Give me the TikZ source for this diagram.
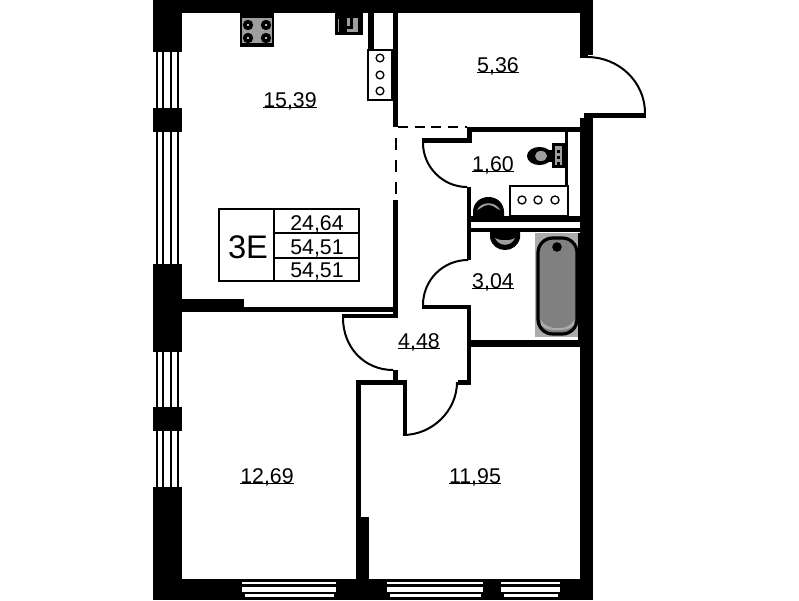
\documentclass[tikz,border=0pt]{standalone}
\usepackage{fontspec}
\setmainfont{Liberation Sans}
\newcommand{\ulnum}[1]{\leavevmode\setbox0\hbox{#1}\rlap{\rule[-1.1pt]{\wd0}{0.9pt}}\box0}
\tikzset{
  wall/.style={fill=black,draw=none},
  gap/.style={fill=white,draw=none},
  swing/.style={draw=black,line width=1.5pt},
  thin wall/.style={draw=black,line width=1pt},
  area/.style={anchor=base,inner sep=0pt,font=\fontsize{16}{16}\selectfont},
  cell/.style={anchor=base,inner sep=0pt,font=\fontsize{16}{16}\selectfont},
  ring/.style={draw=black,fill=white,line width=1pt},
  burner/.style={fill=black,draw=none},
}
\definecolor{tubrim}{gray}{0.67}
\definecolor{tubin}{gray}{0.50}
\definecolor{hobgrey}{gray}{0.62}
\begin{document}
\begin{tikzpicture}[x=0.75pt,y=-0.75pt]
\useasboundingbox (0,0) rectangle (799,600);
\fill[white] (0,0) rectangle (799,600);
% outer walls
\fill[wall] (153,0) rectangle (593,13);
\fill[wall] (153,0) rectangle (182,52);
\fill[wall] (153,108) rectangle (182,132);
\fill[wall] (153,264) rectangle (182,352);
\fill[wall] (153,407) rectangle (182,431);
\fill[wall] (153,487) rectangle (182,600);
\fill[wall] (153,579) rectangle (593,600);
\fill[wall] (580,0) rectangle (593,55);
\fill[wall] (580,53) rectangle (588,58);
\fill[wall] (584,113) rectangle (646,118);
\fill[wall] (584,113) rectangle (593,122);
\fill[wall] (580,118) rectangle (593,600);
% left windows
\foreach \ya/\yb in {52/108,132/264,352/407,431/487}{
  \foreach \xa/\xb in {155.5/157.5,161.5/163.5,170/172,176.5/178.5}{
    \fill[wall] (\xa,\ya) rectangle (\xb,\yb);
  }
}
% bottom windows
\foreach \xa/\xb in {242/336,387/483,501/560}{
  \fill[gap] (\xa,581.7) rectangle (\xb,584.3);
  \fill[gap] (\xa,586.7) rectangle (\xb,591.7);
  \fill[gap] (\xa+2.5,594) rectangle (\xb-2.5,596.7);
}
% interior walls
\fill[wall] (393,13) rectangle (398,127);
\fill[wall] (368,13) rectangle (374,50);
\fill[wall] (393,200) rectangle (398,318);
\fill[wall] (182,307) rectangle (398,312);
\fill[wall] (182,299) rectangle (244,312);
\fill[wall] (342,314) rectangle (398,318);
\fill[wall] (393,370) rectangle (398,381);
\fill[wall] (357,380) rectangle (407,385);
\fill[wall] (356,380) rectangle (361,579);
\fill[wall] (356,517) rectangle (369,579);
\fill[wall] (403,380) rectangle (407,435);
\fill[wall] (458,380) rectangle (471,385);
\fill[wall] (467,307) rectangle (471,385);
\fill[wall] (422,305) rectangle (471,309);
\fill[wall] (467,187) rectangle (471,260);
\fill[wall] (467,340) rectangle (580,347);
\fill[wall] (467,216) rectangle (580,222);
\fill[wall] (467,228) rectangle (580,232);
\fill[wall] (467,127) rectangle (580,132);
\fill[wall] (467,127) rectangle (472,143);
\fill[wall] (422,138) rectangle (472,143);
\fill[wall] (565,132) rectangle (568,186);
% dashed partitions
\draw[line width=1.5pt,dash pattern=on 7.5pt off 5pt] (398,127) -- (467,127);
\draw[line width=1.5pt,dash pattern=on 9pt off 7.5pt] (395.5,138) -- (395.5,197);
% door swings
\draw[swing] (587,57) .. controls (619,57) and (645,82) .. (645,113);
\draw[swing] (423,143) .. controls (423,167) and (443,187) .. (467,187);
\draw[swing] (468,260) .. controls (443,260) and (423,280) .. (423,305);
\draw[swing] (343,318) .. controls (343,347) and (364,370) .. (393,370);
\draw[swing] (403,435) .. controls (432,435) and (457,411) .. (457,382);
% hob
\fill[wall] (240,13) rectangle (274,47);
\fill[hobgrey] (242,18) rectangle (272,43);
\foreach \bx/\by in {248/25,266/25,248/38,266/38}{
  \fill[burner] (\bx,\by) circle[radius=3.9pt];
  \fill[white] (\bx,\by) circle[radius=0.9pt];
}
% kitchen sink
\fill[wall] (335,13) rectangle (363,35);
\fill[hobgrey] (347,18) rectangle (358,32);
\fill[wall] (350,18) rectangle (353,27);
\fill[wall] (346,26) rectangle (353,29);
\fill[hobgrey] (338,19) rectangle (339,32);
% kitchen counter stove
\draw[thin wall,fill=white] (368,50) rectangle (392,100);
\foreach \ry in {58,75,91}{ \draw[ring] (380,\ry) circle[radius=2.9pt]; }
% bathroom counter
\draw[thin wall,fill=white] (510,186) rectangle (568,216);
\foreach \rx in {522,538,555}{ \draw[ring] (\rx,200) circle[radius=3pt]; }
% toilet
\fill[wall] (552,143) rectangle (565,168);
\fill[hobgrey] (555,146) rectangle (562,165);
\foreach \ty in {150,156,162}{ \fill[wall] (556.8,\ty) rectangle (560.2,\ty+3); }
\fill[wall] (539.5,156) ellipse[x radius=9.4pt,y radius=6.8pt];
\fill[wall] (546,150) rectangle (553,162);
\fill[hobgrey] (541,156) ellipse[x radius=4.5pt,y radius=3.8pt];
% washbasin 1,60
\fill[wall] (473,216) -- (473,212) .. controls (473,203) and (480,197) .. (488.5,197) .. controls (497,197) and (504,203) .. (504,212) -- (504,216) -- cycle;
\fill[hobgrey] (477,210) .. controls (481,201) and (496,201) .. (500,210) .. controls (495,208) and (493,205) .. (488.5,205) .. controls (484,205) and (482,208) .. (477,210) -- cycle;
% washbasin 3,04
\fill[wall] (490,232) -- (490,238) .. controls (492,246) and (498,250) .. (505,250) .. controls (512,250) and (518,246) .. (520,238) -- (520,232) -- cycle;
\fill[hobgrey] (495,238) .. controls (499,247) and (511,247) .. (515,238) .. controls (510,241) and (500,241) .. (495,238) -- cycle;
% bath
\fill[tubrim] (535,233) rectangle (578,337);
\fill[wall] (578,233) rectangle (580,340);
\draw[line width=2.4pt,fill=tubin,rounded corners=11pt] (538,238) rectangle (577,334);
\fill[tubrim] (541,320) .. controls (546,331) and (570,331) .. (574,320) -- (574,325) .. controls (569,332) and (546,332) .. (541,325) -- cycle;
\fill[wall] (557,247) circle[radius=3.6pt];
% legend table
\draw[line width=1.4pt] (219,209) rectangle (359,281);
\draw[line width=1.4pt] (274,209) -- (274,281);
\draw[line width=1.4pt] (274,233) -- (359,233);
\draw[line width=1.4pt] (274,258) -- (359,258);
\node[anchor=center,inner sep=0pt,font=\fontsize{24.5}{24.5}\selectfont] (plan) at (248,247) {3E};
\node[cell] (living) at (317,230) {24,64};
\node[cell] (total) at (317,254) {54,51};
\node[cell] (gross) at (317,277) {54,51};
% room areas
\node[area] (kitchen) at (290,107) {\ulnum{15,39}};
\node[area] (hall) at (498,72) {\ulnum{5,36}};
\node[area] (wc) at (493,171) {\ulnum{1,60}};
\node[area] (bathroom) at (493,288) {\ulnum{3,04}};
\node[area] (corridor) at (419,348) {\ulnum{4,48}};
\node[area] (bedrooma) at (267,483) {\ulnum{12,69}};
\node[area] (bedroomb) at (475,483) {\ulnum{11,95}};
\end{tikzpicture}
\end{document}
